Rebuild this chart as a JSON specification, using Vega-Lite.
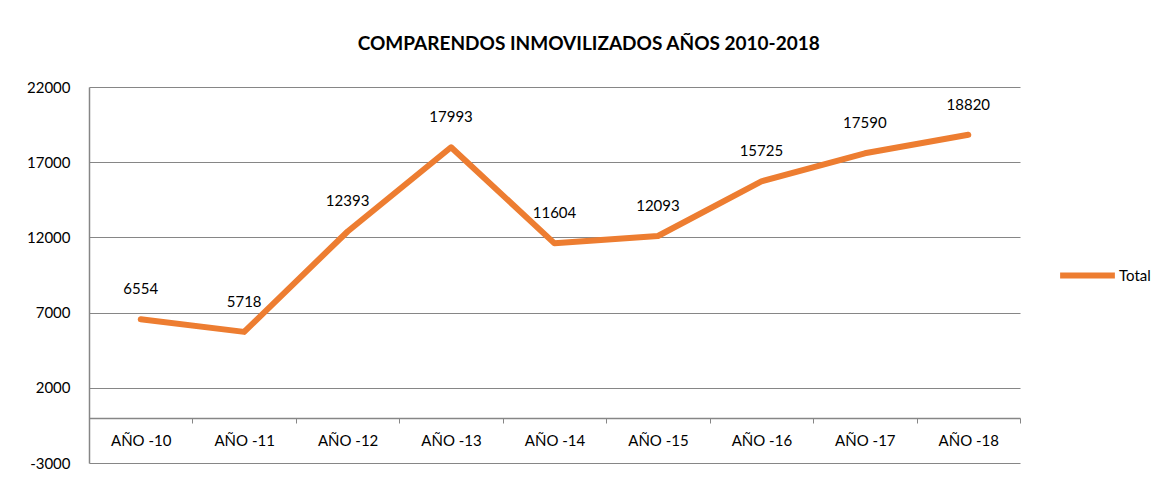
{
  "$schema": "https://vega.github.io/schema/vega-lite/v6.json",
  "width": 931,
  "height": 376,
  "autosize": {"type": "none"},
  "padding": {"left": 89, "top": 87, "right": 154, "bottom": 26},
  "background": "white",
  "config": {
    "font": "Lato",
    "view": {"stroke": null},
    "axis": {"labelFont": "Lato", "labelFontSize": 15, "labelColor": "#000000"}
  },
  "title": {
    "text": "COMPARENDOS INMOVILIZADOS AÑOS 2010-2018",
    "fontSize": 19,
    "fontWeight": "bold",
    "font": "Lato",
    "color": "#000000",
    "anchor": "middle",
    "frame": "bounds",
    "offset": 26
  },
  "data": {
    "values": [
      {"year": "AÑO -10", "total": 6554, "series": "Total"},
      {"year": "AÑO -11", "total": 5718, "series": "Total"},
      {"year": "AÑO -12", "total": 12393, "series": "Total"},
      {"year": "AÑO -13", "total": 17993, "series": "Total"},
      {"year": "AÑO -14", "total": 11604, "series": "Total"},
      {"year": "AÑO -15", "total": 12093, "series": "Total"},
      {"year": "AÑO -16", "total": 15725, "series": "Total"},
      {"year": "AÑO -17", "total": 17590, "series": "Total"},
      {"year": "AÑO -18", "total": 18820, "series": "Total"}
    ]
  },
  "encoding": {
    "x": {
      "field": "year",
      "type": "nominal",
      "sort": null,
      "bandPosition": 0.5,
      "scale": {"type": "band", "paddingInner": 0, "paddingOuter": 0},
      "axis": {
        "title": null,
        "labelAngle": 0,
        "offset": -45,
        "domainColor": "#868686",
        "domainWidth": 1.5,
        "tickColor": "#868686",
        "tickSize": 5,
        "tickBand": "extent",
        "labelPadding": 10,
        "grid": false
      }
    },
    "y": {
      "field": "total",
      "type": "quantitative",
      "scale": {"domain": [-3000, 22000], "nice": false, "zero": false},
      "axis": {
        "title": null,
        "values": [-3000, 2000, 7000, 12000, 17000, 22000],
        "labelExpr": "'' + datum.value",
        "ticks": false,
        "labelPadding": 19,
        "domainColor": "#868686",
        "domainWidth": 1.5,
        "gridColor": "#868686",
        "gridWidth": 1.2
      }
    }
  },
  "layer": [
    {
      "mark": {"type": "line", "strokeWidth": 6, "strokeCap": "round", "strokeJoin": "round"},
      "encoding": {
        "color": {
          "field": "series",
          "type": "nominal",
          "scale": {"range": ["#ED7D31"]},
          "legend": {
            "title": null,
            "orient": "none",
            "legendX": 968,
            "legendY": 158,
            "symbolType": "stroke",
            "symbolSize": 3000,
            "symbolStrokeWidth": 6,
            "labelFontSize": 15,
            "labelFont": "Lato",
            "labelColor": "#000000",
            "labelOffset": 1
          }
        }
      }
    },
    {
      "mark": {"type": "text", "dy": -30, "fontSize": 15, "font": "Lato", "color": "#000000", "baseline": "middle"},
      "encoding": {"text": {"field": "total", "type": "quantitative", "format": "d"}}
    }
  ]
}
